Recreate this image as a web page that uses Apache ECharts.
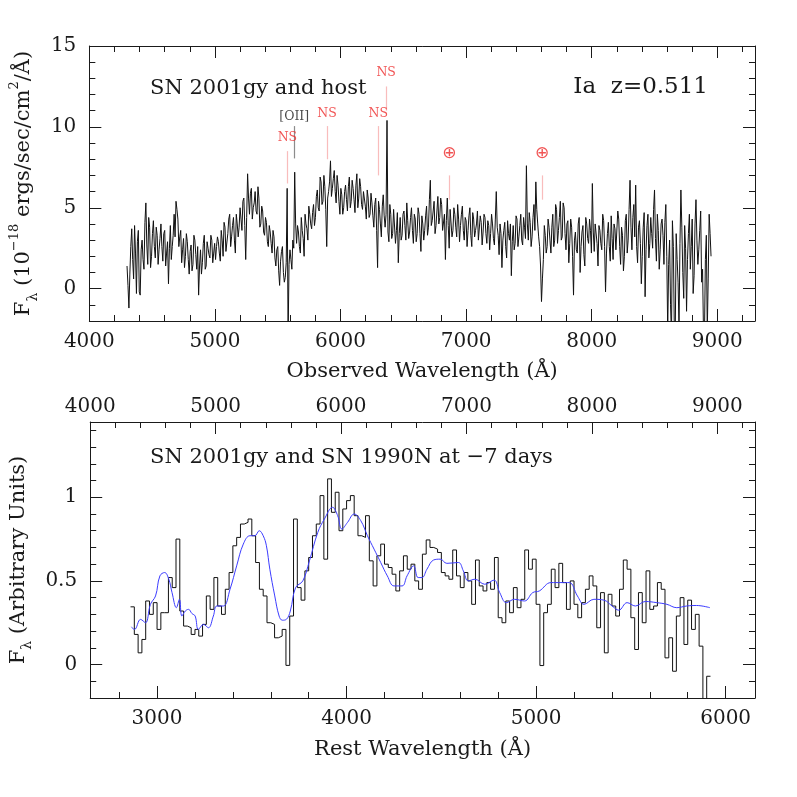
<!DOCTYPE html>
<html><head><meta charset="utf-8">
<script src="https://cdn.jsdelivr.net/npm/echarts@6/dist/echarts.min.js"></script>
<style>html,body{margin:0;padding:0;background:#fff}#c{width:797px;height:797px}</style>
</head><body><div id="c"></div>
<script>
// ---------------- data ----------------
const redshift = 0.511;
// observed spectrum (top panel), sampled every 15 A from 4300 A ...
const obsStart = 4300, obsStep = 15;
const obsFlux = [
  1.4, -1.2, 2.6, 1.8, 3.9, -0.3, 3.6, -0.4, 3.0, 1.2,
  5.3, 1.5, 3.8, 2.0, 4.2, 1.9, 3.3, 2.4, 4.0, 1.7,
  3.6, 2.2, 0.3, 3.9, 2.6, 4.6, 5.4, 4.3, 3.2, 1.6,
  3.1, 2.0, 2.9, 0.9, 2.7, 1.5, 3.0, 1.2, -0.4, 2.4,
  1.6, 3.3, 1.4, 2.5, 1.9, 3.0, 2.2, 1.8, 3.2, 2.2,
  3.6, 2.0, 3.8, 2.4, 4.3, 2.6, 3.9, 3.0, 4.6, 3.2,
  5.0, 3.6, 5.6, 1.8, 7.1, 4.6, 6.2, 5.0, 6.0, 4.6,
  5.6, 4.0, 4.8, 3.3, 4.1, 2.6, 3.5, 2.2, 3.2, 1.4,
  2.6, 0.2, 2.3, 1.0, 0.7, 6.2, 1.5, 1.8, 3.0, 7.2,
  2.8, 3.5, 2.2, 3.6, 2.0, 4.0, 3.0, 4.6, 3.7, 5.2,
  4.4, 6.1, 4.8, 6.6, 5.4, 6.3, 2.6, 6.0, 7.9, 6.2,
  7.3, 5.3, 6.4, 4.6, 5.8, 5.0, 6.4, 4.8, 6.9, 5.4,
  6.2, 4.7, 7.1, 5.6, 6.3, 4.9, 5.9, 4.3, 5.6, 4.6,
  5.3, 3.8, 5.6, 1.3, 4.9, 3.2, 5.8, 3.8, 10.4, 2.9,
  4.6, 3.4, 5.0, 3.6, 1.6, 4.4, 3.3, 4.8, 3.0, 4.2,
  3.5, 5.0, 2.8, 4.3, 3.4, 4.6, 2.3, 4.0, 3.6, 5.1,
  3.8, 6.7, 4.2, 5.4, 3.9, 5.7, 4.4, 5.2, 3.5, 1.8,
  5.6, 2.5, 4.8, 3.6, 4.6, 3.2, 4.3, 3.9, 5.1, 3.0,
  4.2, 3.6, 5.0, 2.6, 4.3, 3.6, 4.8, 2.9, 4.1, 3.5,
  4.4, 2.8, 3.9, 3.4, 4.0, 2.7, 6.0, 3.3, 4.0, 1.3,
  3.6, 2.6, 4.2, 3.0, 0.8, 3.9, 2.8, 4.3, 3.2, 4.6,
  2.7, 3.8, 7.6, 3.0, 4.1, 3.2, 5.2, 6.6, 4.0, 2.6,
  -0.8, 1.8, 3.3, 2.6, 3.8, 2.2, 4.6, 3.0, 4.9, 3.6,
  5.4, 3.2, 5.0, 2.4, 4.2, 2.8, 3.8, -0.4, 3.5, 2.2,
  4.4, 2.6, 3.9, 1.4, 4.0, 2.8, 3.6, 6.5, 2.3, 4.1,
  1.4, 3.6, 2.4, 4.2, -0.2, 3.4, 2.6, 4.5, 1.8, 3.7,
  2.5, 4.3, 1.5, 3.3, 2.0, 4.6, 3.0, 6.7, 2.4, 5.2,
  6.4, 1.6, 4.2, 0.3, 3.8, -0.5, 3.9, 1.9, 4.4, 2.5,
  6.1, 1.7, 3.6, 2.4, 4.3, 1.5, 5.2, -2.6, 3.0, -3.0,
  2.6, -2.8, 1.8, -2.4, 6.1, 1.0, 3.9, -1.4, 3.4, 1.2,
  4.3, 0.8, 5.5, 1.5, 3.6, 0.4, -2.8, 1.8, -2.6, 4.6,
  2.0
];
// ... and the samples half-way between them (4307.5, 4322.5, ...)
const obsFluxMid = [
  0.2, 0.9, 3.7, 0.6, 2.2, 2.9, -0.2, 2.4, 1.8, 4.1,
  2.7, 4.4, 1.3, 3.4, 2.6, 3.8, 1.5, 3.1, 2.6, 3.4,
  1.4, 2.9, 2.5, 1.8, 3.3, 3.2, 4.9, 2.6, 3.6, 2.4,
  1.3, 3.4, 1.8, 2.3, 1.1, 3.3, 2.1, 2.6, 1.4, 0.9,
  2.8, 1.2, 2.9, 2.1, 3.3, 1.6, 2.8, 2.6, 2.9, 1.7,
  3.0, 4.1, 2.3, 3.4, 4.6, 3.2, 4.4, 2.2, 4.0, 3.8,
  4.3, 5.4, 3.9, 4.4, 5.6, 5.9, 4.3, 5.3, 4.8, 6.3,
  3.8, 5.1, 3.5, 4.4, 2.9, 3.9, 2.8, 3.6, 1.9, 2.4,
  1.1, 1.7, 2.6, 0.4, 1.6, -3.0, 2.4, 1.2, 2.5, 4.0,
  3.9, 2.6, 4.4, 3.1, 4.6, 3.7, 5.1, 4.0, 4.7, 3.9,
  5.7, 5.0, 6.9, 5.2, 7.0, 4.9, 5.6, 6.6, 5.7, 6.8,
  6.0, 7.0, 5.4, 6.2, 4.6, 6.0, 5.5, 6.3, 5.0, 6.7,
  5.5, 6.4, 5.0, 6.8, 5.2, 6.0, 5.1, 6.1, 4.4, 5.9,
  4.5, 5.2, 3.6, 5.4, 4.0, 5.1, 4.5, 4.6, 3.5, 5.2,
  3.1, 4.9, 2.8, 4.7, 3.4, 3.0, 4.6, 3.9, 5.3, 3.1,
  4.4, 3.6, 4.6, 2.9, 5.0, 3.4, 4.5, 3.0, 4.5, 3.3,
  5.5, 3.9, 4.8, 3.4, 4.8, 4.0, 5.6, 3.6, 4.6, 4.2,
  3.9, 4.9, 3.2, 5.0, 3.8, 5.2, 2.9, 4.6, 3.6, 4.4,
  2.6, 4.5, 3.3, 4.7, 3.2, 4.0, 3.0, 4.5, 2.7, 4.6,
  3.4, 4.2, 2.4, 4.6, 3.1, 4.3, 3.8, 2.1, 3.4, 3.0,
  4.1, 1.9, 3.4, 4.0, 2.9, 2.4, 4.5, 2.6, 3.9, 3.0,
  4.4, 3.1, 4.0, 4.7, 2.6, 4.4, 3.6, 4.9, 3.2, 1.4,
  0.6, 3.9, 2.2, 4.3, 3.0, 3.8, 2.6, 5.2, 2.8, 4.4,
  3.0, 5.3, 3.4, 4.0, 1.6, 4.3, 2.0, 3.0, 2.4, 4.0,
  1.0, 3.5, 2.1, 4.4, 3.1, 4.3, 2.2, 3.5, 4.0, 2.8,
  3.9, 2.8, 4.6, 2.6, 2.2, 4.1, 1.7, 3.1, 4.0, 2.4,
  4.8, 2.6, 3.8, 1.1, 4.2, 2.2, 4.9, 3.8, 4.4, 3.2,
  2.6, 3.8, 2.8, 2.0, 4.7, 2.4, 4.6, 2.8, 3.4, 4.9,
  3.1, 4.6, 1.2, 4.0, 3.3, 4.1, 2.0, 1.5, -1.0, 4.2,
  -2.5, 3.4, 0.4, 2.8, 3.8, -0.6, 2.5, 1.8, 4.6, 2.6,
  -0.3, 4.0, 3.0, 2.4, 4.8, 1.2, -3.0, 3.3, 0.6, 3.4
];
// binned rest-frame spectrum (bottom panel, black histogram), 20 A bins from 2860 A
const restBinStart = 2860, restBinWidth = 20;
const restFlux = [
  0.345, 0.18, 0.07, 0.15, 0.38, 0.30, 0.37, 0.21, 0.31, 0.31,
  0.52, 0.46, 0.75, 0.32, 0.23, 0.22, 0.18, 0.21, 0.17, 0.24,
  0.41, 0.33, 0.52, 0.35, 0.30, 0.45, 0.55, 0.71, 0.76, 0.84,
  0.85, 0.87, 0.77, 0.61, 0.45, 0.41, 0.25, 0.24, 0.16, 0.17,
  0.21, -0.005, 0.29, 0.87, 0.46, 0.385, 0.56, 0.64, 0.77, 0.84,
  1.01, 0.63, 1.11, 0.91, 1.03, 0.80, 0.93, 0.98, 1.01, 0.89,
  0.77, 0.76, 0.89, 0.62, 0.47, 0.65, 0.72, 0.60, 0.58, 0.54,
  0.44, 0.56, 0.65, 0.57, 0.60, 0.50, 0.45, 0.66, 0.745, 0.70,
  0.69, 0.67, 0.55, 0.53, 0.51, 0.685, 0.53, 0.46, 0.55, 0.50,
  0.36, 0.625, 0.47, 0.44, 0.49, 0.45, 0.64, 0.28, 0.25, 0.38,
  0.31, 0.46, 0.34, 0.39, 0.685, 0.57, 0.63, 0.36, -0.006, 0.31,
  0.36, 0.57, 0.46, 0.605, 0.49, 0.33, 0.50, 0.36, 0.28, 0.37,
  0.45, 0.53, 0.47, 0.22, 0.43, 0.07, 0.42, 0.35, 0.29, 0.45,
  0.625, 0.57, 0.28, 0.09, 0.43, 0.25, 0.56, 0.33, 0.35, 0.49,
  0.45, 0.04, 0.16, -0.04, 0.29, 0.40, 0.12, 0.385, 0.21, 0.30,
  0.11, -0.3, -0.07
];
// SN 1990N template (bottom panel, blue)
const templateWave = [2864,2881,2913,2939,2965,2992,3015,3040,3062,3079,3102,3118,3131,3149,3166,3184,3201,3218,3245,3271,3297,3315,3350,3385,3420,3455,3490,3516,3539,3560,3577,3595,3621,3644,3661,3682,3703,3731,3769,3804,3848,3883,3926,3953,3975,4005,4040,4075,4110,4145,4180,4215,4250,4293,4319,4354,4377,4398,4424,4459,4494,4529,4590,4616,4642,4677,4729,4778,4808,4843,4886,4939,4982,5017,5078,5131,5175,5218,5253,5305,5358,5401,5436,5480,5524,5576,5637,5690,5742,5794,5847,5917];
const templateFlux = [0.225,0.21,0.27,0.25,0.36,0.41,0.53,0.55,0.51,0.43,0.34,0.39,0.29,0.32,0.33,0.305,0.29,0.21,0.24,0.22,0.29,0.35,0.35,0.45,0.59,0.72,0.77,0.77,0.80,0.77,0.71,0.57,0.41,0.29,0.265,0.27,0.32,0.46,0.50,0.62,0.79,0.87,0.94,0.89,0.81,0.85,0.90,0.86,0.77,0.69,0.61,0.53,0.47,0.47,0.53,0.59,0.52,0.52,0.57,0.625,0.63,0.605,0.61,0.56,0.50,0.51,0.48,0.505,0.43,0.37,0.39,0.38,0.43,0.44,0.49,0.49,0.49,0.41,0.36,0.39,0.385,0.35,0.325,0.37,0.35,0.377,0.37,0.36,0.34,0.35,0.353,0.34];
// line identifications (top panel)
const annotWave  = [5577, 5631, 5893, 6300, 6363, 6867, 7605];
const annotText  = ['NS', '[OII]', 'NS', 'NS', 'NS', '\u2295', '\u2295'];
const annotTextY = [9.3, 10.6, 10.8, 10.8, 13.35, 8.35, 8.35];
const annotLineLo = [6.5, 8.05, 8.0, 7.0, 11.0, 5.5, 5.5];
const annotLineHi = [8.5, 10.05, 10.05, 10.05, 12.5, 7.0, 7.0];
const annotIsRed = [true, false, true, true, true, true, true];
// axes / ticks
const obsMin = 4000, obsMax = 9300;
const obsMajorTicks = [4000, 5000, 6000, 7000, 8000, 9000];
const restMajorTicks = [3000, 4000, 5000, 6000];
const topYMin = -2, topYMax = 15, topYMajorTicks = [0, 5, 10, 15];
const botYMin = -0.2, botYMax = 1.45, botYMajorTicks = [0, 0.5, 1];

// ---------------- helpers ----------------
function range(a, b, step) { const r = []; for (let v = a; v <= b + 1e-9; v += step) r.push(Math.round(v * 1000) / 1000); return r; }
const obsMinorTicks = range(4200, 9200, 200);
const restMin = obsMin / (1 + redshift), restMax = obsMax / (1 + redshift);
const restMinorTicks = range(2800, 6000, 200);
const topYMinorTicks = range(-2, 15, 1);
const botYMinorTicks = range(-0.2, 1.4, 0.1);

const FONT = '"DejaVu Serif", "Liberation Serif", serif';
const INK = '#1a1a1a';
const labelBase = { color: INK, fontFamily: FONT, fontSize: 20 };

function axisPair(gridIndex, position, min, max, major, minor, opts) {
  opts = opts || {};
  const base = { type: 'value', gridIndex, position, min, max, splitLine: { show: false } };
  const majorAxis = Object.assign({}, base, {
    axisLine: { show: true, onZero: false, lineStyle: { color: INK, width: 1 } },
    axisTick: { show: true, inside: true, length: 12, customValues: major, lineStyle: { color: INK, width: 1 } },
    axisLabel: Object.assign({ show: !!opts.labels, customValues: major, margin: opts.margin || 10,
      formatter: v => String(v) }, labelBase)
  }, opts.extra || {});
  const minorAxis = Object.assign({}, base, {
    axisLine: { show: false, onZero: false },
    axisTick: { show: true, inside: true, length: 6, customValues: minor, lineStyle: { color: INK, width: 1 } },
    axisLabel: { show: false }
  });
  return [majorAxis, minorAxis];
}

const nameStyle = { color: INK, fontFamily: FONT, fontSize: 21 };
const richY = {
  t: { color: INK, fontFamily: FONT, fontSize: 21 },
  sub: { color: INK, fontFamily: FONT, fontSize: 14, verticalAlign: 'bottom', lineHeight: 32 },
  sup: { color: INK, fontFamily: FONT, fontSize: 13, verticalAlign: 'top', lineHeight: 32 }
};

const xAxes = [].concat(
  axisPair(0, 'bottom', obsMin, obsMax, obsMajorTicks, obsMinorTicks, { labels: true, margin: 11,
    extra: { name: 'Observed Wavelength (\u00c5)', nameLocation: 'middle', nameGap: 40, nameTextStyle: nameStyle } }),
  axisPair(0, 'top', obsMin, obsMax, obsMajorTicks, obsMinorTicks, {}),
  axisPair(1, 'bottom', restMin, restMax, restMajorTicks, restMinorTicks, { labels: true, margin: 11,
    extra: { name: 'Rest Wavelength (\u00c5)', nameLocation: 'middle', nameGap: 41, nameTextStyle: nameStyle } }),
  axisPair(1, 'top', obsMin, obsMax, obsMajorTicks, obsMinorTicks, { labels: true, margin: 5 })
);
const yAxes = [].concat(
  axisPair(0, 'left', topYMin, topYMax, topYMajorTicks, topYMinorTicks, { labels: true, margin: 13,
    extra: { name: '{t|F}{sub|\u03bb}{t| (10}{sup|\u221218}{t| ergs/sec/cm}{sup|2}{t|/\u00c5)}', nameLocation: 'middle',
      nameRotate: 90, nameGap: 46, nameTextStyle: { rich: richY } } }),
  axisPair(0, 'right', topYMin, topYMax, topYMajorTicks, topYMinorTicks, {}),
  axisPair(1, 'left', botYMin, botYMax, botYMajorTicks, botYMinorTicks, { labels: true, margin: 13,
    extra: { name: '{t|F}{sub|\u03bb}{t| (Arbitrary Units)}', nameLocation: 'middle',
      nameRotate: 90, nameGap: 50, nameTextStyle: { rich: richY } } }),
  axisPair(1, 'right', botYMin, botYMax, botYMajorTicks, botYMinorTicks, {})
);

// series data built from the arrays
const obsData = [];
obsFlux.forEach((v, i) => {
  obsData.push([obsStart + i * obsStep, v]);
  if (i < obsFluxMid.length) obsData.push([obsStart + i * obsStep + obsStep / 2, obsFluxMid[i]]);
});
const histData = restFlux.map((v, i) => [restBinStart + i * restBinWidth, v]);
histData.push([restBinStart + restFlux.length * restBinWidth, restFlux[restFlux.length - 1]]);
const templateData = templateWave.map((w, i) => [w, templateFlux[i]]);
const RED = '#ee2a2a', PINK = '#f47a7a';
const annotLines = annotWave.map((w, i) => ({
  coords: [[w, annotLineLo[i]], [w, annotLineHi[i]]],
  lineStyle: { color: annotIsRed[i] ? PINK : INK, width: 1.2 }
}));
const annotLabels = annotWave.map((w, i) => ({
  name: annotText[i], value: [w, annotTextY[i]],
  label: annotText[i] === '\u2295'
    ? { color: RED, fontSize: 17, fontFamily: '"DejaVu Sans", sans-serif' }
    : { color: annotIsRed[i] ? RED : INK, fontSize: 12.5, fontFamily: FONT }
}));

const chart = echarts.init(document.getElementById('c'), null, { renderer: 'canvas' });
chart.setOption({
  animation: false,
  backgroundColor: '#fff',
  grid: [
    { left: 86, top: 46, width: 669, height: 275 },
    { left: 86, top: 422, width: 669, height: 276 }
  ],
  xAxis: xAxes,
  yAxis: yAxes,
  graphic: [
    { type: 'text', x: 150, y: 89, style: { text: 'SN 2001gy and host', fill: INK, font: '21px ' + FONT, verticalAlign: 'middle', align: 'left' } },
    { type: 'text', x: 708, y: 87, style: { text: 'Ia  z=0.511', fill: INK, font: '23px ' + FONT, verticalAlign: 'middle', align: 'right' } },
    { type: 'text', x: 150, y: 458, style: { text: 'SN 2001gy and SN 1990N at \u22127 days', fill: INK, font: '21px ' + FONT, verticalAlign: 'middle', align: 'left' } }
  ],
  series: [
    { type: 'line', xAxisIndex: 0, yAxisIndex: 0, data: obsData, showSymbol: false, clip: true,
      lineStyle: { color: '#111', width: 1 }, silent: true },
    { type: 'lines', coordinateSystem: 'cartesian2d', xAxisIndex: 0, yAxisIndex: 0, data: annotLines,
      symbol: 'none', silent: true },
    { type: 'scatter', xAxisIndex: 0, yAxisIndex: 0, data: annotLabels, symbolSize: 1,
      itemStyle: { color: 'rgba(0,0,0,0)' }, silent: true,
      label: { show: true, position: 'inside', formatter: p => p.name } },
    { type: 'line', xAxisIndex: 4, yAxisIndex: 4, data: histData, step: 'end', showSymbol: false, clip: true,
      lineStyle: { color: '#111', width: 1 }, silent: true },
    { type: 'line', xAxisIndex: 4, yAxisIndex: 4, data: templateData, smooth: 0.4, showSymbol: false, clip: true,
      lineStyle: { color: '#3c3cff', width: 1 }, silent: true }
  ]
});
</script></body></html>
